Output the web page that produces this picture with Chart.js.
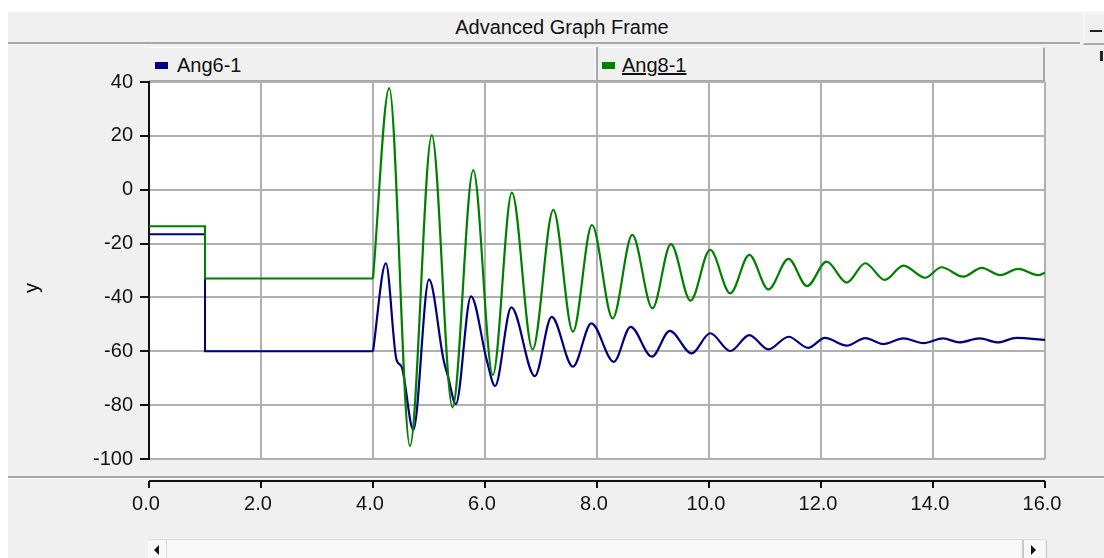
<!DOCTYPE html>
<html>
<head>
<meta charset="utf-8">
<script src="https://cdn.jsdelivr.net/npm/chart.js@4.4.1/dist/chart.umd.min.js"></script>
<style>
    body { margin: 0; background: #fff; font-family: "Liberation Sans", Arial, sans-serif; }
    #frame { position: absolute; left: 8px; top: 12px; width: 1096px; height: 546px; background: #f0f0f0; }
    .abs { position: absolute; }
    #titleBar { left: 8px; top: 12px; width: 1072px; height: 30px; border-bottom: 2px solid #a8a8a8; background: #f0f0f0; }
    #titleText { left: 562px; top: 16px; transform: translateX(-50%); font-size: 20px; color: #111; white-space: nowrap; }
    #minBtn { left: 1083px; top: 13px; width: 21px; height: 29px; border-left: 1px solid #fff; border-top: 1px solid #fff; background: #f0f0f0; border-bottom: 2px solid #a8a8a8; }
    #minBtn div { position: absolute; left: 6px; top: 16px; width: 12px; height: 2px; background: #222; }
    #legendBar { left: 149px; top: 47px; width: 894px; height: 32px; background: #f0f0f0; border-top: 1px solid #fff; border-bottom: 2px solid #a8a8a8; border-right: 2px solid #a8a8a8; }
    #legendDiv { left: 595px; top: 47px; width: 2px; height: 33px; background: #a8a8a8; border-left: 1px solid #fff; }
    .swatch { width: 13px; height: 7px; }
    .legText { font-size: 20px; color: #111; white-space: nowrap; }
    #yTitle { left: 31px; top: 288px; transform: translate(-50%, -50%) rotate(-90deg); font-size: 20px; color: #111; }
    #separator { left: 8px; top: 476px; width: 1096px; height: 0; border-top: 2px solid #a8a8a8; border-bottom: 1px solid #fff; }
    #scrollTrack { left: 148px; top: 539px; width: 897px; height: 19px; background: #f8f8f8; border-top: 1px solid #dcdcdc; }
    #scrollLeft { left: 148px; top: 540px; width: 18px; height: 18px; border-right: 1px solid #dcdcdc; }
    #scrollRight { left: 1022px; top: 540px; width: 22px; height: 18px; border-left: 2px solid #c8c8c8; border-right: 1px solid #c8c8c8; }
    .triL { position: absolute; left: 6px; top: 5px; width: 0; height: 0; border-top: 5px solid transparent; border-bottom: 5px solid transparent; border-right: 5px solid #111; }
    .triR { position: absolute; left: 7px; top: 5px; width: 0; height: 0; border-top: 5px solid transparent; border-bottom: 5px solid transparent; border-left: 5px solid #111; }
    #chart { position: absolute; left: 0; top: 0; }
</style>
</head>
<body>
<div id="frame"></div>
<div class="abs" id="titleBar"></div>
<div class="abs" id="titleText">Advanced Graph Frame</div>
<div class="abs" id="minBtn"><div></div></div>
<div class="abs" style="left:1100px;top:51px;width:3px;height:10px;background:#222;"></div>
<div class="abs" id="legendBar"></div>
<div class="abs" id="legendDiv"></div>
<div class="abs swatch" style="left:155px;top:62px;background:#000080;"></div>
<div class="abs legText" style="left:177px;top:54px;">Ang6-1</div>
<div class="abs swatch" style="left:602px;top:62px;background:#008000;"></div>
<div class="abs legText" style="left:622px;top:54px;text-decoration:underline;">Ang8-1</div>
<div class="abs" id="yTitle">y</div>
<div class="abs" id="separator"></div>
<div class="abs" id="scrollTrack"></div>
<div class="abs" id="scrollLeft"><div class="triL"></div></div>
<div class="abs" id="scrollRight"><div class="triR"></div></div>
<canvas id="chart" width="1104" height="558"></canvas>

<script>
    // Pre-disturbance part (steps at t = 1 s, flat until t = 4 s)
    const stepTime = [0, 1, 1, 4];
    const ang6Step = [-16.5, -16.5, -60, -60];
    const ang8Step = [-13.6, -13.6, -33, -33];

    // Swing after t = 4 s (peaks, troughs, shoulders)
    const ang6Time = [4.0, 4.23, 4.42, 4.51, 4.72, 5.0, 5.26, 5.34, 5.48, 5.75, 6.03, 6.18, 6.47, 6.89, 7.19, 7.57, 7.90,
        8.30, 8.60, 8.98, 9.30, 9.69, 10.02, 10.38, 10.72, 11.06, 11.42, 11.77, 12.07, 12.46, 12.79, 13.11, 13.47,
        13.83, 14.18, 14.47, 14.83, 15.16, 15.49, 16.0];
    const ang6Swing = [-60, -27.3, -63.2, -65.7, -89.2, -33.3, -63.2, -69.4, -79.6, -39.6, -63.2, -72.9, -43.7, -69.2, -47.2, -65.7, -49.6,
        -63.9, -50.9, -62.0, -52.4, -60.8, -53.3, -59.9, -54.0, -59.3, -54.6, -58.7, -55.0, -57.9, -55.1, -57.3, -55.2,
        -57.0, -55.2, -56.7, -55.2, -56.7, -55.0, -55.8];

    const ang8Time = [4.0, 4.29, 4.66, 5.05, 5.42, 5.79, 6.14, 6.48, 6.85, 7.22, 7.57, 7.91, 8.28, 8.63, 8.99, 9.32, 9.67,
        10.02, 10.38, 10.72, 11.06, 11.42, 11.75, 12.10, 12.46, 12.79, 13.14, 13.47, 13.86, 14.15, 14.54, 14.87,
        15.20, 15.52, 15.88, 16.0];
    const ang8Swing = [-33, 37.7, -95.2, 20.3, -80.8, 7.3, -68.8, -1.1, -59.3, -7.5, -52.7, -13.1, -47.8, -16.8, -44.0, -20.2, -41.2,
        -22.3, -38.5, -24.2, -37.0, -25.7, -35.8, -26.7, -34.5, -27.3, -33.5, -28.2, -32.7, -28.8, -32.3, -29.0,
        -31.7, -29.4, -31.7, -30.8];

    const xTicks = [0, 2, 4, 6, 8, 10, 12, 14, 16];

    const pts = (xs, ys) => xs.map((x, i) => ({ x: x, y: ys[i] }));

    const gridGray = '#b0b0b0';
    const fontSpec = { family: '"Liberation Sans", Arial, sans-serif', size: 20 };

    // White plot area and the separate x axis line below the separator
    const framePlugin = {
        id: 'frame',
        beforeDraw(chart) {
            const { ctx, chartArea } = chart;
            ctx.save();
            ctx.fillStyle = '#fff';
            ctx.fillRect(chartArea.left, chartArea.top, chartArea.right - chartArea.left, chartArea.bottom - chartArea.top);
            ctx.restore();
        },
        afterDraw(chart) {
            const { ctx } = chart;
            const xs = chart.scales.x;
            const axisY = 481;
            ctx.save();
            ctx.strokeStyle = '#111';
            ctx.lineWidth = 2;
            ctx.beginPath();
            ctx.moveTo(xs.getPixelForValue(0), axisY);
            ctx.lineTo(xs.getPixelForValue(16), axisY);
            xTicks.forEach(v => {
                const px = Math.round(xs.getPixelForValue(v));
                ctx.moveTo(px, axisY);
                ctx.lineTo(px, axisY + 7);
            });
            ctx.stroke();
            ctx.restore();
        }
    };

    const ctx = document.getElementById('chart').getContext('2d');
    new Chart(ctx, {
        type: 'line',
        data: {
            datasets: [{
                label: 'Ang8-1',
                data: pts(ang8Time, ang8Swing),
                borderColor: '#008000',
                borderWidth: 2.2,
                cubicInterpolationMode: 'monotone',
                pointRadius: 0
            }, {
                label: 'Ang8-1',
                data: pts(stepTime, ang8Step),
                borderColor: '#008000',
                borderWidth: 2,
                tension: 0,
                pointRadius: 0
            }, {
                label: 'Ang6-1',
                data: pts(ang6Time, ang6Swing),
                borderColor: '#000080',
                borderWidth: 2.2,
                cubicInterpolationMode: 'monotone',
                pointRadius: 0
            }, {
                label: 'Ang6-1',
                data: pts(stepTime, ang6Step),
                borderColor: '#000080',
                borderWidth: 2,
                tension: 0,
                pointRadius: 0
            }]
        },
        options: {
            responsive: false,
            animation: false,
            devicePixelRatio: 1,
            layout: {
                padding: { top: 82, right: 59, left: 0, bottom: 0 }
            },
            plugins: {
                legend: { display: false },
                tooltip: { enabled: false }
            },
            scales: {
                x: {
                    type: 'linear',
                    min: 0,
                    max: 16,
                    afterFit: s => { s.height = 99; },
                    afterBuildTicks: s => { s.ticks = xTicks.map(v => ({ value: v })); },
                    ticks: {
                        padding: 33,
                        labelOffset: -3,
                        color: '#111',
                        font: fontSpec,
                        callback: v => v.toFixed(1)
                    },
                    grid: {
                        color: c => (c.tick && c.tick.value === 0) ? 'rgba(0,0,0,0)' : gridGray,
                        lineWidth: 2,
                        drawTicks: false
                    },
                    border: { display: false }
                },
                y: {
                    min: -100,
                    max: 40,
                    afterFit: s => { s.width = 149; },
                    ticks: {
                        stepSize: 20,
                        padding: 7,
                        color: '#111',
                        font: fontSpec
                    },
                    grid: {
                        color: gridGray,
                        lineWidth: 2,
                        tickLength: 9,
                        tickColor: '#111'
                    },
                    border: { display: true, color: '#111', width: 2 }
                }
            }
        },
        plugins: [framePlugin]
    });
</script>
</body>
</html>
